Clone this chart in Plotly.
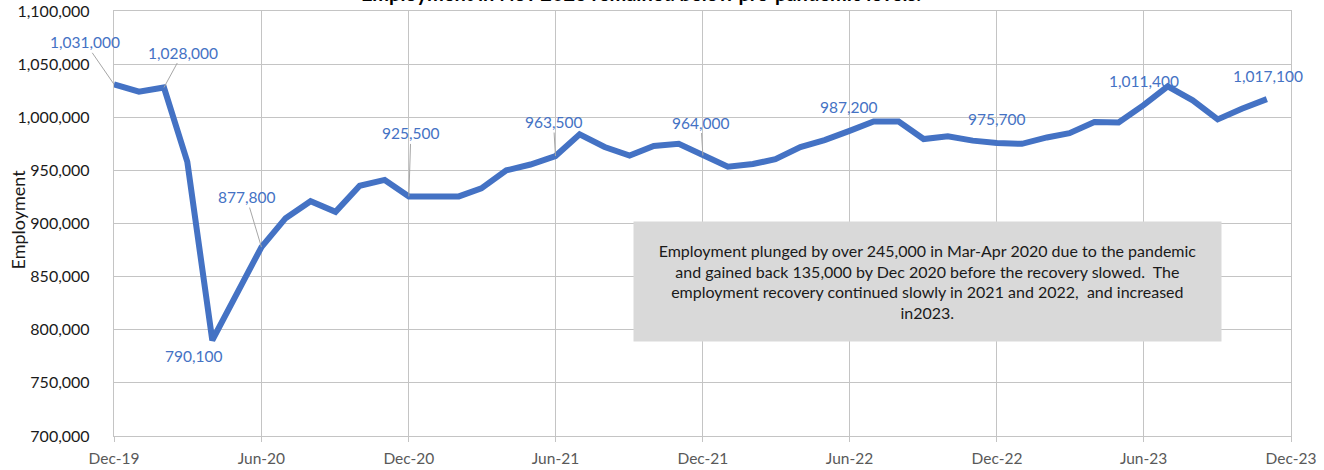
import plotly.graph_objects as go
import pandas as pd

# ---- data ----
months = pd.date_range("2019-12-01", "2023-11-01", freq="MS")
employment = [
    1031000, 1024000, 1028000, 958000, 790100, 833000, 877800, 905000,
    921000, 911000, 935500, 941000, 925500, 925500, 925500, 933000,
    950000, 955500, 963500, 984000, 972000, 964000, 973000, 975000,
    964000, 953500, 956000, 960500, 972000, 978500, 987200, 996000,
    996000, 979500, 982000, 978000, 975700, 975000, 981000, 985000,
    995500, 995000, 1011400, 1029000, 1016000, 998000, 1008000, 1017100,
]
labelled_idx = [0, 2, 4, 6, 12, 18, 24, 30, 36, 42, 47]
title_text = "Employment in Nov 2023 remained below pre-pandemic levels."
y_title = "Employment"
note_text = ("Employment plunged by over 245,000 in Mar-Apr 2020 due to the pandemic<br>"
             "and gained back 135,000 by Dec 2020 before the recovery slowed.  The<br>"
             "employment recovery continued slowly in 2021 and 2022,  and increased<br>"
             "in2023.")

FONT = "Lato, 'Open Sans', sans-serif"
BLUE = "#4472C4"
GRID = "#C4C4C4"

fig = go.Figure()
fig.add_trace(go.Scatter(x=months, y=employment, mode="lines",
                         line=dict(color=BLUE, width=6), hoverinfo="skip",
                         showlegend=False))

# label placement (pixel offsets of label centre relative to point)
label_style = {
    0: dict(ax=-29, ay=-42, arrow=True),
    2: dict(ax=19, ay=-35, arrow=True),
    4: dict(ax=-19, ay=16, arrow=False),
    6: dict(ax=-15, ay=-50, arrow=True),
    12: dict(ax=2, ay=-63, arrow=True),
    18: dict(ax=-2, ay=-34, arrow=True),
    24: dict(ax=-2, ay=-33, arrow=True),
    30: dict(ax=-1, ay=-24, arrow=False),
    36: dict(ax=0, ay=-24, arrow=False),
    42: dict(ax=0, ay=-24, arrow=False),
    47: dict(ax=1, ay=-23, arrow=False),
}
annotations = []
for i in labelled_idx:
    st = label_style[i]
    txt = f"{employment[i]:,}"
    if st["arrow"]:
        annotations.append(dict(x=months[i], y=employment[i], xref="x", yref="y",
                                text=txt, showarrow=True, arrowhead=0, arrowwidth=1,
                                arrowcolor="#A6A6A6", ax=st["ax"], ay=st["ay"],
                                standoff=0,
                                font=dict(family=FONT, size=15.5, color=BLUE)))
    else:
        annotations.append(dict(x=months[i], y=employment[i], xref="x", yref="y",
                                text=txt, showarrow=False, xshift=st["ax"],
                                yshift=-st["ay"],
                                font=dict(family=FONT, size=15.5, color=BLUE)))

annotations.append(dict(x=0.6912, y=0.3647, xref="paper", yref="paper",
                        text=note_text, showarrow=False, align="center",
                        bgcolor="#D9D9D9", width=585, height=117,
                        xanchor="center", yanchor="middle", valign="middle",
                        font=dict(family=FONT, size=16, color="#1a1a1a")))
annotations.append(dict(x=0.4477, y=1, xref="paper", yref="paper", text=f"<b>{title_text}</b>",
                        showarrow=False, xanchor="center", yanchor="bottom", yshift=4,
                        font=dict(family=FONT, size=20, color="#000000")))
annotations.append(dict(x=0, y=0.5, xref="paper", yref="paper", text=y_title,
                        showarrow=False, textangle=-90, xanchor="center", yanchor="middle",
                        xshift=-97, yshift=4,
                        font=dict(family=FONT, size=18, color="#1a1a1a")))

fig.update_layout(
    width=1324, height=470,
    margin=dict(l=114, r=33, t=11, b=34, pad=0),
    paper_bgcolor="white", plot_bgcolor="white",
    annotations=annotations,
    font=dict(family=FONT),
)
fig.update_xaxes(
    type="date", range=["2019-12-01", "2023-12-01"], dtick="M6", tick0="2019-12-01",
    tickformat="%b-%y", showgrid=True, gridcolor=GRID, gridwidth=1.3,
    showline=True, linecolor=GRID, linewidth=1.3, mirror=True,
    ticks="outside", ticklen=5, tickcolor=GRID, ticklabelstandoff=3,
    tickfont=dict(family=FONT, size=15.5, color="#595959"), zeroline=False,
    automargin=False,
)
fig.update_yaxes(
    range=[700000, 1100000], dtick=50000, tick0=700000, tickformat=",",
    showgrid=True, gridcolor=GRID, gridwidth=1.3,
    showline=True, linecolor=GRID, linewidth=1.3, mirror=True,
    ticks="", ticklabelstandoff=20,
    tickfont=dict(family=FONT, size=16, color="#1a1a1a"), zeroline=False,
    automargin=False,
)

fig.write_html("out.html", config={"displayModeBar": False},
               post_script="document.body.style.margin='0';")
